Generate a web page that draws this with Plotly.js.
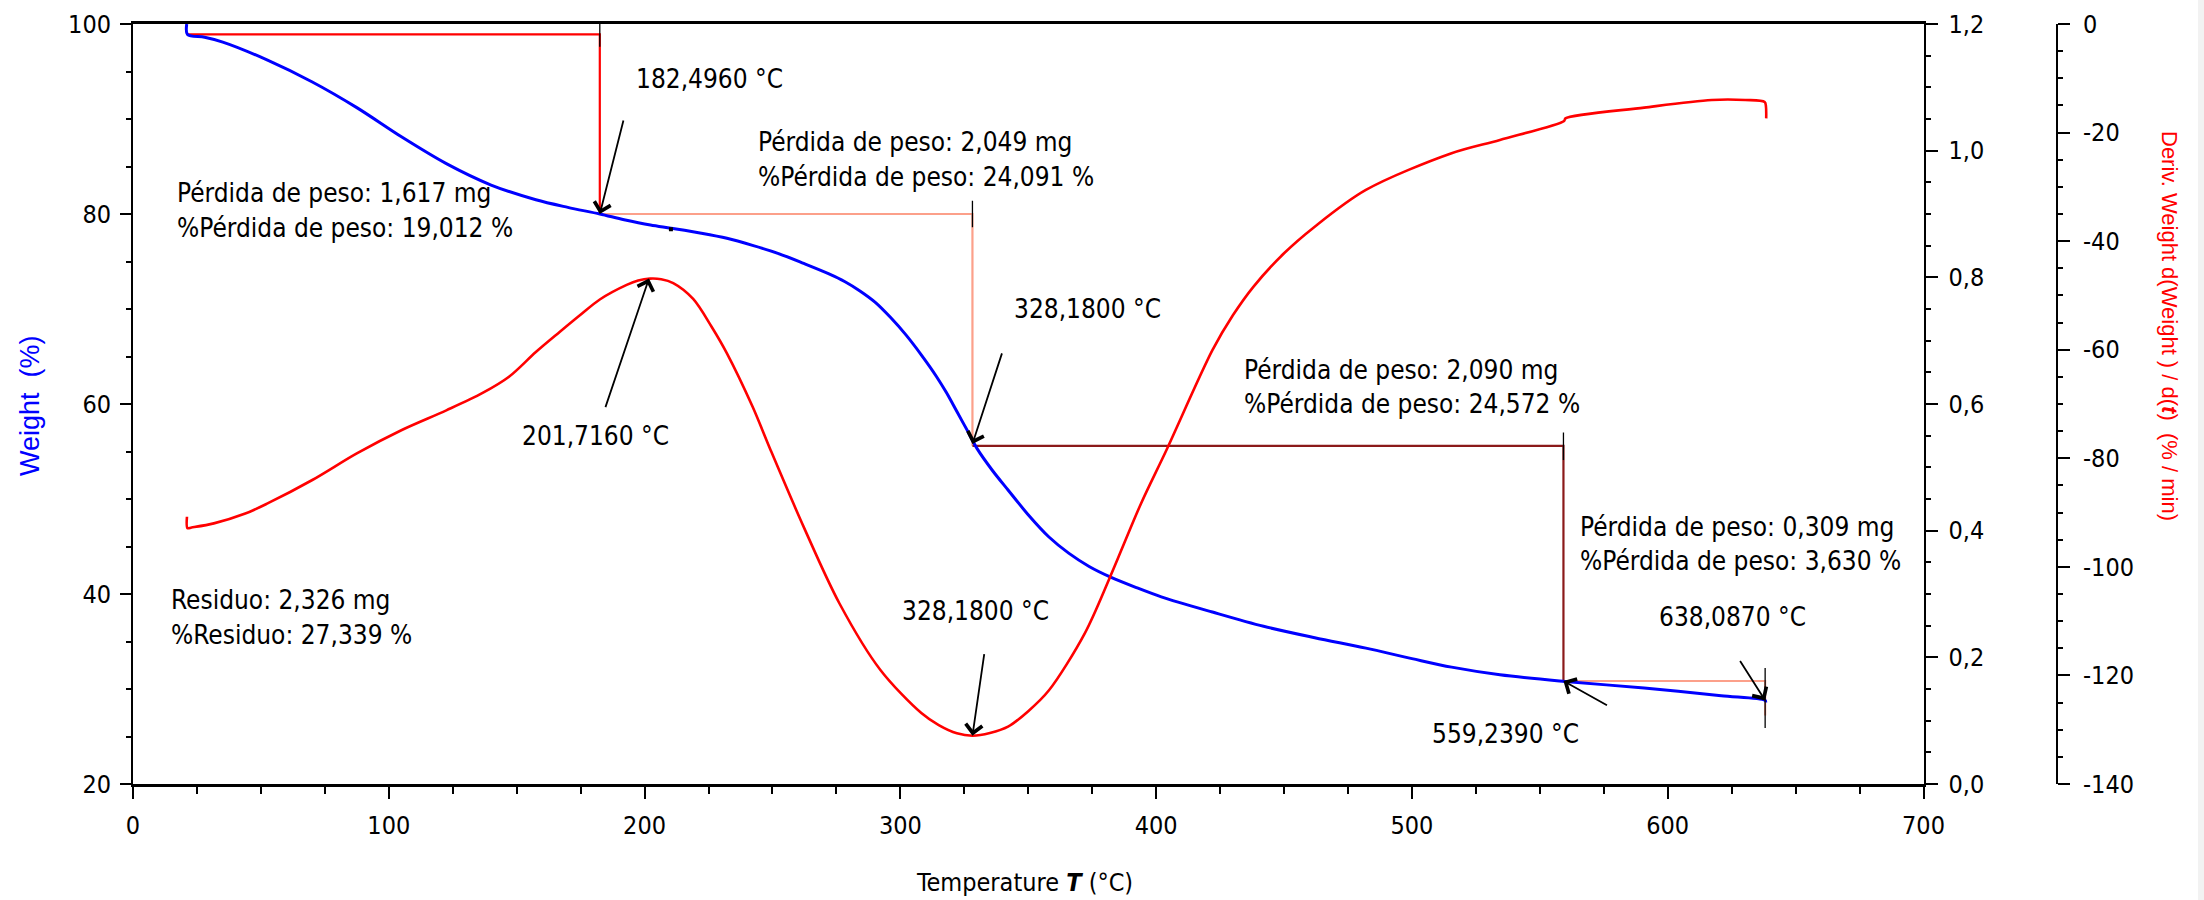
<!DOCTYPE html>
<html>
<head>
<meta charset="utf-8">
<script src="https://cdn.plot.ly/plotly-3.0.1.min.js"></script>
<style>html,body{margin:0;padding:0;background:#fff;}#chart{width:2204px;height:900px;}</style>
</head>
<body>
<div id="chart"></div>
<script>
// ---------- data ----------
// TG curve: temperature (°C) vs weight (%)
const tgT = [21.0, 21.3, 28.0, 35.1, 52.6, 70.1, 87.5, 105.1, 122.5, 140.0, 157.5, 170.0, 182.5, 192.0, 202.3, 210.3, 222.2, 232.2, 242.2, 252.1, 262.2, 272.1, 278.2, 284.2, 290.2, 296.2, 302.1, 308.1, 314.1, 318.0, 322.1, 326.0, 330.0, 336.0, 342.1, 349.8, 358.1, 365.8, 373.8, 382.0, 392.0, 402.0, 422.0, 442.0, 462.0, 482.0, 500.0, 515.5, 534.4, 559.8, 590.8, 620.9, 638.1, 638.3];
const tgW = [100.0, 98.9, 98.6, 98.1, 96.2, 93.9, 91.2, 88.1, 85.3, 83.05, 81.5, 80.7, 80.0, 79.4, 78.84, 78.5, 77.97, 77.44, 76.7, 75.86, 74.8, 73.7, 72.9, 71.9, 70.7, 69.1, 67.3, 65.2, 62.9, 61.2, 59.2, 57.3, 55.3, 53.0, 50.95, 48.4, 46.0, 44.3, 42.9, 41.8, 40.7, 39.7, 38.1, 36.6, 35.4, 34.3, 33.2, 32.3, 31.5, 30.8, 30.1, 29.3, 28.8, 28.6];
// DTG curve: temperature (°C) vs right-axis value
const dtgT = [21.1, 21.3, 22.9, 31.6, 43.9, 52.6, 70.1, 87.5, 105.1, 122.5, 136.5, 147.0, 157.5, 166.9, 174.7, 182.5, 193.0, 197.5, 202.1, 206.5, 211.2, 219.0, 226.2, 232.2, 242.2, 249.3, 262.2, 276.2, 292.2, 308.2, 315.0, 322.1, 328.2, 335.0, 342.1, 350.0, 358.1, 372.1, 382.0, 394.1, 404.0, 422.0, 430.0, 438.0, 450.0, 462.0, 482.0, 515.5, 534.4, 559.5, 560.0, 590.8, 617.2, 630.3, 637.9, 638.4, 638.5];
const dtgV = [0.422, 0.404, 0.405, 0.4115, 0.427, 0.443, 0.480, 0.522, 0.559, 0.590, 0.617, 0.643, 0.682, 0.714, 0.740, 0.765, 0.788, 0.795, 0.798, 0.797, 0.791, 0.766, 0.722, 0.680, 0.596, 0.527, 0.406, 0.285, 0.180, 0.112, 0.093, 0.080, 0.0763, 0.0805, 0.0905, 0.115, 0.148, 0.238, 0.327, 0.443, 0.527, 0.685, 0.740, 0.785, 0.838, 0.880, 0.938, 0.996, 1.017, 1.047, 1.051, 1.068, 1.080, 1.080, 1.077, 1.070, 1.051];
// weight-loss steps
const stepT = [21.3, 182.496, 328.18, 559.239, 638.087];
const stepW = [98.9, 80.0, 55.6, 30.84, 27.2];
const stepTickLo = [97.6, 78.6, 54.1, 25.9];
const stepTickHi = [100.4, 81.4, 57.0, 32.2];
const lossMg = [1.617, 2.049, 2.090, 0.309];
const lossPct = [19.012, 24.091, 24.572, 3.630];
const residueMg = 2.326, residuePct = 27.339;
// marked events
const eventT = [182.496, 201.716, 328.18, 328.18, 559.239, 638.087];
const eventVal = [80.0, 0.798, 55.8, 0.0763, 30.84, 28.8];
const eventAxis = ['y', 'y2', 'y', 'y2', 'y', 'y'];
const markT = [210.3], markW = [78.4];
// axis ticks
const y3TickVals = [0, -20, -40, -60, -80, -100, -120, -140];
const y3TickText = ['0', '-20', '-40', '-60', '-80', '-100', '-120', '-140'];

// ---------- layout helpers ----------
const L = 133, R = 2057, T = 24, B = 784;
const PX = p => (p - L) / (R - L);
const PY = p => (B - p) / (B - T);
const NARROW = 'DejaVu Sans Condensed, Liberation Sans, sans-serif';
const REG = 'Liberation Sans, Arial, sans-serif';
const fmt = (v, d) => v.toFixed(d).replace('.', ',');

const traces = [];
const stepColors = ['#ff0000', '#fca08a', '#8b1a1a', '#fca08a'];
for (let i = 0; i < stepT.length - 1; i++) {
  traces.push({x: [stepT[i], stepT[i + 1], stepT[i + 1]], y: [stepW[i], stepW[i], stepW[i + 1]],
    type: 'scatter', mode: 'lines', line: {color: stepColors[i], width: 2.2}, xaxis: 'x', yaxis: 'y', hoverinfo: 'skip'});
}
traces.push({x: tgT, y: tgW, type: 'scatter', mode: 'lines', line: {color: '#0000ff', width: 3, shape: 'spline', smoothing: 0.9}, xaxis: 'x', yaxis: 'y'});
for (let i = 0; i < stepTickLo.length; i++) {
  traces.push({x: [stepT[i + 1], stepT[i + 1]], y: [stepTickLo[i], stepTickHi[i]], type: 'scatter', mode: 'lines',
    line: {color: '#000', width: 1.3}, xaxis: 'x', yaxis: 'y', hoverinfo: 'skip'});
}
traces.push({x: markT, y: markW, type: 'scatter', mode: 'markers', marker: {symbol: 'square', size: 4, color: '#000'}, xaxis: 'x', yaxis: 'y'});
traces.push({x: dtgT, y: dtgV, type: 'scatter', mode: 'lines', line: {color: '#ff0000', width: 2.6, shape: 'spline', smoothing: 0.9}, xaxis: 'x', yaxis: 'y2'});
traces.push({x: [0], y: [-200], type: 'scatter', mode: 'markers', marker: {opacity: 0}, xaxis: 'x', yaxis: 'y3', hoverinfo: 'skip'});

const tickFont = {family: NARROW, size: 25, color: '#000'};
const annFont = {family: NARROW, size: 26, color: '#000'};
const anns = [];
function txt(s, left, cy, anchor) {
  anns.push({text: s, xref: 'paper', yref: 'paper', x: PX(left), y: PY(cy), xanchor: anchor || 'left', yanchor: 'middle', showarrow: false, font: annFont});
}
const arrowOff = [[24, -95], [-44, 130], [30, -92], [12, -83], [45, 25], [-26, -41]];
for (let i = 0; i < eventT.length; i++) {
  anns.push({text: '', x: eventT[i], y: eventVal[i], xref: 'x', yref: eventAxis[i], showarrow: true,
    ax: arrowOff[i][0], ay: arrowOff[i][1], arrowhead: 4, arrowsize: 1.8, arrowwidth: 1.8, arrowcolor: '#000', standoff: 0, font: {size: 1}});
}
txt(fmt(eventT[0], 4) + ' °C', 634, 79);
txt('Pérdida de peso: ' + fmt(lossMg[0], 3) + ' mg', 175, 193);
txt('%Pérdida de peso: ' + fmt(lossPct[0], 3) + ' %', 175, 228);
txt(fmt(eventT[1], 4) + ' °C', 520, 436);
txt('Pérdida de peso: ' + fmt(lossMg[1], 3) + ' mg', 756, 142);
txt('%Pérdida de peso: ' + fmt(lossPct[1], 3) + ' %', 756, 177);
txt(fmt(eventT[2], 4) + ' °C', 1012, 309);
txt('Pérdida de peso: ' + fmt(lossMg[2], 3) + ' mg', 1242, 370);
txt('%Pérdida de peso: ' + fmt(lossPct[2], 3) + ' %', 1242, 404);
txt(fmt(eventT[3], 4) + ' °C', 900, 611);
txt('Pérdida de peso: ' + fmt(lossMg[3], 3) + ' mg', 1578, 527);
txt('%Pérdida de peso: ' + fmt(lossPct[3], 3) + ' %', 1578, 561);
txt(fmt(eventT[5], 4) + ' °C', 1657, 617);
txt(fmt(eventT[4], 4) + ' °C', 1581, 734, 'right');
txt('Residuo: ' + fmt(residueMg, 3) + ' mg', 169, 600);
txt('%Residuo: ' + fmt(residuePct, 3) + ' %', 169, 635);
anns.push({text: 'Weight  (%)', xref: 'paper', yref: 'paper', x: PX(30), y: PY(406), xanchor: 'center', yanchor: 'middle', textangle: -90, showarrow: false, font: {family: REG, size: 27, color: '#0000ff'}});
anns.push({text: 'Deriv. Weight d(Weight ) / d(<b><i>t</i></b>)  (% / min)', xref: 'paper', yref: 'paper', x: PX(2170), y: PY(326), xanchor: 'center', yanchor: 'middle', textangle: 90, showarrow: false, font: {family: REG, size: 22, color: '#ff0000'}});
anns.push({text: 'Temperature <b><i>T</i></b> (°C)', xref: 'paper', yref: 'paper', x: PX(1024), y: PY(882), xanchor: 'center', yanchor: 'middle', showarrow: false, font: {family: NARROW, size: 25, color: '#000'}});

const layout = {
  width: 2204, height: 900,
  margin: {l: L, r: 2204 - R, t: T, b: 900 - B, pad: 0},
  paper_bgcolor: '#fff', plot_bgcolor: '#fff',
  showlegend: false, separators: ', ',
  xaxis: {domain: [0, (1923.5 - L) / (R - L)], range: [0, 700], dtick: 100, tick0: 0, ticks: 'outside', ticklen: 12, tickwidth: 2, tickcolor: '#000',
    minor: {dtick: 25, ticks: 'outside', ticklen: 7, tickwidth: 2, tickcolor: '#000'},
    showline: true, linewidth: 3, linecolor: '#000', mirror: true, showgrid: false, zeroline: false, tickfont: tickFont, ticklabelstandoff: 5},
  yaxis: {range: [20, 100], dtick: 20, tick0: 0, ticks: 'outside', ticklen: 11, tickwidth: 2, tickcolor: '#000',
    minor: {dtick: 5, ticks: 'outside', ticklen: 5, tickwidth: 2, tickcolor: '#000'},
    showline: true, linewidth: 2, linecolor: '#000', showgrid: false, zeroline: false, tickfont: tickFont, ticklabelstandoff: 4},
  yaxis2: {overlaying: 'y', side: 'right', anchor: 'x', range: [0, 1.2], dtick: 0.2, tick0: 0, tickformat: '.1f', ticks: 'outside', ticklen: 12, tickwidth: 2, tickcolor: '#000',
    minor: {dtick: 0.05, ticks: 'outside', ticklen: 5, tickwidth: 2, tickcolor: '#000'},
    showline: true, linewidth: 2, linecolor: '#000', showgrid: false, zeroline: false, tickfont: tickFont, ticklabelstandoff: 6},
  yaxis3: {overlaying: 'y', side: 'right', anchor: 'free', position: 1, range: [-140, 0], tickmode: 'array', tickvals: y3TickVals, ticktext: y3TickText,
    ticks: 'outside', ticklen: 12, tickwidth: 2, tickcolor: '#000',
    minor: {dtick: 5, tick0: 0, ticks: 'outside', ticklen: 5, tickwidth: 2, tickcolor: '#000'},
    showline: true, linewidth: 2, linecolor: '#000', showgrid: false, zeroline: false, tickfont: tickFont, ticklabelstandoff: 8},
  annotations: anns,
  shapes: [{type: 'rect', xref: 'paper', yref: 'paper', x0: PX(2198), x1: PX(2204), y0: PY(900), y1: PY(0), fillcolor: '#f2f2f2', line: {width: 0}, layer: 'below'}]
};
Plotly.newPlot('chart', traces, layout, {staticPlot: true});
</script>
</body>
</html>
